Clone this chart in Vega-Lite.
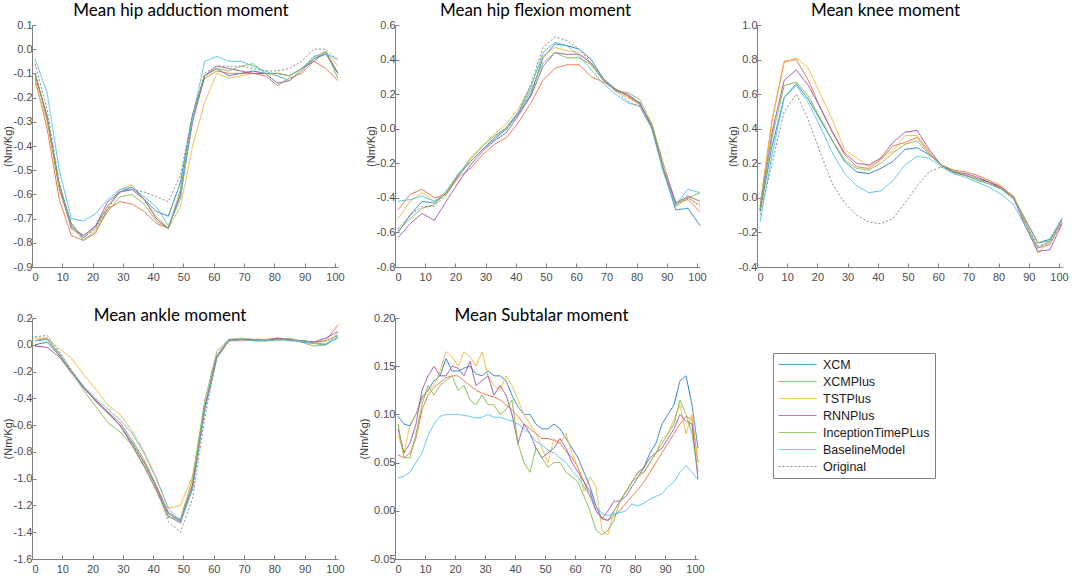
{
  "$schema": "https://vega.github.io/schema/vega-lite/v6.json",
  "padding": {"left": 2, "top": 2, "right": 4, "bottom": 2},
  "background": "white",
  "config": {
    "locale": {"number": {"decimal": ".", "thousands": ",", "grouping": [3], "currency": ["$", ""], "minus": "-"}},
    "view": {"stroke": null},
    "axis": {
      "grid": false,
      "domainColor": "#808080",
      "tickColor": "#808080",
      "tickSize": -4,
      "labelColor": "#4d4d4d",
      "labelFont": "Liberation Sans Narrow, Liberation Sans",
      "labelFontSize": 11,
      "titleFont": "Liberation Sans",
      "titleFontSize": 11,
      "titleFontWeight": "normal",
      "titleColor": "#333333",
      "titlePadding": 0
    },
    "axisX": {"labelPadding": 8},
    "axisY": {"labelPadding": 4},
    "title": {"font": "Lato", "fontSize": 17, "fontWeight": "normal", "color": "black", "offset": -1},
    "legend": {
      "orient": "none",
      "legendX": 741,
      "legendY": 328,
      "symbolType": "M-1,0H5.33",
      "symbolSize": 144,
      "symbolStrokeWidth": 1,
      "labelFont": "Liberation Sans",
      "labelFontSize": 12.5,
      "labelColor": "#1a1a1a",
      "labelOffset": 32,
      "strokeColor": "#808080",
      "padding": 5,
      "rowPadding": 4
    },
    "line": {"strokeWidth": 1}
  },
  "datasets": {
    "moments": [
      {"p":"add","x":1,"XCM":-0.10,"XCMPlus":-0.12,"TSTPlus":-0.14,"RNNPlus":-0.10,"InceptionTimePLus":-0.10,"BaselineModel":-0.04,"Original":-0.06},
      {"p":"add","x":5,"XCM":-0.28,"XCMPlus":-0.33,"TSTPlus":-0.30,"RNNPlus":-0.28,"InceptionTimePLus":-0.29,"BaselineModel":-0.18,"Original":-0.25},
      {"p":"add","x":9,"XCM":-0.56,"XCMPlus":-0.62,"TSTPlus":-0.58,"RNNPlus":-0.57,"InceptionTimePLus":-0.57,"BaselineModel":-0.50,"Original":-0.55},
      {"p":"add","x":13,"XCM":-0.72,"XCMPlus":-0.77,"TSTPlus":-0.73,"RNNPlus":-0.74,"InceptionTimePLus":-0.73,"BaselineModel":-0.70,"Original":-0.74},
      {"p":"add","x":17,"XCM":-0.78,"XCMPlus":-0.79,"TSTPlus":-0.77,"RNNPlus":-0.77,"InceptionTimePLus":-0.79,"BaselineModel":-0.71,"Original":-0.78},
      {"p":"add","x":21,"XCM":-0.73,"XCMPlus":-0.76,"TSTPlus":-0.74,"RNNPlus":-0.73,"InceptionTimePLus":-0.75,"BaselineModel":-0.68,"Original":-0.74},
      {"p":"add","x":25,"XCM":-0.65,"XCMPlus":-0.66,"TSTPlus":-0.65,"RNNPlus":-0.63,"InceptionTimePLus":-0.67,"BaselineModel":-0.62,"Original":-0.66},
      {"p":"add","x":29,"XCM":-0.59,"XCMPlus":-0.63,"TSTPlus":-0.58,"RNNPlus":-0.59,"InceptionTimePLus":-0.61,"BaselineModel":-0.58,"Original":-0.59},
      {"p":"add","x":33,"XCM":-0.57,"XCMPlus":-0.64,"TSTPlus":-0.56,"RNNPlus":-0.58,"InceptionTimePLus":-0.60,"BaselineModel":-0.57,"Original":-0.58},
      {"p":"add","x":37,"XCM":-0.62,"XCMPlus":-0.67,"TSTPlus":-0.62,"RNNPlus":-0.62,"InceptionTimePLus":-0.64,"BaselineModel":-0.61,"Original":-0.59},
      {"p":"add","x":41,"XCM":-0.67,"XCMPlus":-0.72,"TSTPlus":-0.69,"RNNPlus":-0.70,"InceptionTimePLus":-0.71,"BaselineModel":-0.65,"Original":-0.61},
      {"p":"add","x":45,"XCM":-0.69,"XCMPlus":-0.74,"TSTPlus":-0.74,"RNNPlus":-0.74,"InceptionTimePLus":-0.74,"BaselineModel":-0.73,"Original":-0.63},
      {"p":"add","x":49,"XCM":-0.55,"XCMPlus":-0.60,"TSTPlus":-0.65,"RNNPlus":-0.60,"InceptionTimePLus":-0.58,"BaselineModel":-0.62,"Original":-0.52},
      {"p":"add","x":53,"XCM":-0.27,"XCMPlus":-0.28,"TSTPlus":-0.40,"RNNPlus":-0.30,"InceptionTimePLus":-0.28,"BaselineModel":-0.28,"Original":-0.27},
      {"p":"add","x":57,"XCM":-0.11,"XCMPlus":-0.12,"TSTPlus":-0.22,"RNNPlus":-0.11,"InceptionTimePLus":-0.11,"BaselineModel":-0.05,"Original":-0.10},
      {"p":"add","x":61,"XCM":-0.08,"XCMPlus":-0.09,"TSTPlus":-0.10,"RNNPlus":-0.07,"InceptionTimePLus":-0.08,"BaselineModel":-0.03,"Original":-0.07},
      {"p":"add","x":65,"XCM":-0.11,"XCMPlus":-0.10,"TSTPlus":-0.12,"RNNPlus":-0.08,"InceptionTimePLus":-0.09,"BaselineModel":-0.05,"Original":-0.07},
      {"p":"add","x":69,"XCM":-0.10,"XCMPlus":-0.10,"TSTPlus":-0.11,"RNNPlus":-0.09,"InceptionTimePLus":-0.07,"BaselineModel":-0.05,"Original":-0.07},
      {"p":"add","x":73,"XCM":-0.09,"XCMPlus":-0.10,"TSTPlus":-0.10,"RNNPlus":-0.10,"InceptionTimePLus":-0.06,"BaselineModel":-0.07,"Original":-0.08},
      {"p":"add","x":77,"XCM":-0.10,"XCMPlus":-0.11,"TSTPlus":-0.10,"RNNPlus":-0.10,"InceptionTimePLus":-0.10,"BaselineModel":-0.09,"Original":-0.09},
      {"p":"add","x":81,"XCM":-0.14,"XCMPlus":-0.15,"TSTPlus":-0.11,"RNNPlus":-0.10,"InceptionTimePLus":-0.10,"BaselineModel":-0.11,"Original":-0.09},
      {"p":"add","x":85,"XCM":-0.13,"XCMPlus":-0.12,"TSTPlus":-0.13,"RNNPlus":-0.11,"InceptionTimePLus":-0.11,"BaselineModel":-0.13,"Original":-0.08},
      {"p":"add","x":89,"XCM":-0.09,"XCMPlus":-0.10,"TSTPlus":-0.09,"RNNPlus":-0.08,"InceptionTimePLus":-0.08,"BaselineModel":-0.08,"Original":-0.05},
      {"p":"add","x":93,"XCM":-0.04,"XCMPlus":-0.05,"TSTPlus":-0.03,"RNNPlus":-0.05,"InceptionTimePLus":-0.04,"BaselineModel":-0.03,"Original":0.00},
      {"p":"add","x":97,"XCM":-0.02,"XCMPlus":-0.08,"TSTPlus":-0.01,"RNNPlus":-0.01,"InceptionTimePLus":-0.01,"BaselineModel":-0.02,"Original":0.00},
      {"p":"add","x":101,"XCM":-0.10,"XCMPlus":-0.13,"TSTPlus":-0.07,"RNNPlus":-0.10,"InceptionTimePLus":-0.12,"BaselineModel":-0.04,"Original":-0.05},

      {"p":"flex","x":1,"XCM":-0.60,"XCMPlus":-0.47,"TSTPlus":-0.52,"RNNPlus":-0.63,"InceptionTimePLus":-0.59,"BaselineModel":-0.42,"Original":-0.58},
      {"p":"flex","x":5,"XCM":-0.50,"XCMPlus":-0.38,"TSTPlus":-0.42,"RNNPlus":-0.55,"InceptionTimePLus":-0.52,"BaselineModel":-0.41,"Original":-0.50},
      {"p":"flex","x":9,"XCM":-0.42,"XCMPlus":-0.35,"TSTPlus":-0.37,"RNNPlus":-0.49,"InceptionTimePLus":-0.46,"BaselineModel":-0.39,"Original":-0.45},
      {"p":"flex","x":13,"XCM":-0.43,"XCMPlus":-0.40,"TSTPlus":-0.42,"RNNPlus":-0.53,"InceptionTimePLus":-0.44,"BaselineModel":-0.42,"Original":-0.45},
      {"p":"flex","x":17,"XCM":-0.37,"XCMPlus":-0.38,"TSTPlus":-0.37,"RNNPlus":-0.42,"InceptionTimePLus":-0.37,"BaselineModel":-0.36,"Original":-0.38},
      {"p":"flex","x":21,"XCM":-0.27,"XCMPlus":-0.28,"TSTPlus":-0.26,"RNNPlus":-0.31,"InceptionTimePLus":-0.27,"BaselineModel":-0.26,"Original":-0.27},
      {"p":"flex","x":25,"XCM":-0.19,"XCMPlus":-0.23,"TSTPlus":-0.18,"RNNPlus":-0.21,"InceptionTimePLus":-0.17,"BaselineModel":-0.19,"Original":-0.19},
      {"p":"flex","x":29,"XCM":-0.12,"XCMPlus":-0.15,"TSTPlus":-0.10,"RNNPlus":-0.13,"InceptionTimePLus":-0.10,"BaselineModel":-0.12,"Original":-0.12},
      {"p":"flex","x":33,"XCM":-0.06,"XCMPlus":-0.09,"TSTPlus":-0.03,"RNNPlus":-0.07,"InceptionTimePLus":-0.04,"BaselineModel":-0.05,"Original":-0.05},
      {"p":"flex","x":37,"XCM":0.00,"XCMPlus":-0.05,"TSTPlus":0.03,"RNNPlus":-0.02,"InceptionTimePLus":0.00,"BaselineModel":0.01,"Original":0.01},
      {"p":"flex","x":41,"XCM":0.09,"XCMPlus":0.04,"TSTPlus":0.12,"RNNPlus":0.08,"InceptionTimePLus":0.10,"BaselineModel":0.10,"Original":0.10},
      {"p":"flex","x":45,"XCM":0.20,"XCMPlus":0.15,"TSTPlus":0.25,"RNNPlus":0.19,"InceptionTimePLus":0.22,"BaselineModel":0.24,"Original":0.26},
      {"p":"flex","x":49,"XCM":0.41,"XCMPlus":0.28,"TSTPlus":0.42,"RNNPlus":0.36,"InceptionTimePLus":0.38,"BaselineModel":0.44,"Original":0.47},
      {"p":"flex","x":53,"XCM":0.49,"XCMPlus":0.35,"TSTPlus":0.47,"RNNPlus":0.44,"InceptionTimePLus":0.44,"BaselineModel":0.50,"Original":0.53},
      {"p":"flex","x":57,"XCM":0.48,"XCMPlus":0.37,"TSTPlus":0.45,"RNNPlus":0.43,"InceptionTimePLus":0.41,"BaselineModel":0.48,"Original":0.51},
      {"p":"flex","x":61,"XCM":0.46,"XCMPlus":0.37,"TSTPlus":0.44,"RNNPlus":0.43,"InceptionTimePLus":0.41,"BaselineModel":0.42,"Original":0.46},
      {"p":"flex","x":65,"XCM":0.40,"XCMPlus":0.30,"TSTPlus":0.37,"RNNPlus":0.38,"InceptionTimePLus":0.37,"BaselineModel":0.34,"Original":0.38},
      {"p":"flex","x":69,"XCM":0.29,"XCMPlus":0.27,"TSTPlus":0.28,"RNNPlus":0.28,"InceptionTimePLus":0.28,"BaselineModel":0.26,"Original":0.29},
      {"p":"flex","x":73,"XCM":0.23,"XCMPlus":0.23,"TSTPlus":0.22,"RNNPlus":0.22,"InceptionTimePLus":0.22,"BaselineModel":0.20,"Original":0.22},
      {"p":"flex","x":77,"XCM":0.19,"XCMPlus":0.19,"TSTPlus":0.18,"RNNPlus":0.20,"InceptionTimePLus":0.21,"BaselineModel":0.15,"Original":0.16},
      {"p":"flex","x":81,"XCM":0.15,"XCMPlus":0.14,"TSTPlus":0.14,"RNNPlus":0.15,"InceptionTimePLus":0.17,"BaselineModel":0.13,"Original":0.13},
      {"p":"flex","x":85,"XCM":0.01,"XCMPlus":0.03,"TSTPlus":0.02,"RNNPlus":0.01,"InceptionTimePLus":0.03,"BaselineModel":0.00,"Original":0.01},
      {"p":"flex","x":89,"XCM":-0.25,"XCMPlus":-0.21,"TSTPlus":-0.24,"RNNPlus":-0.24,"InceptionTimePLus":-0.24,"BaselineModel":-0.26,"Original":-0.24},
      {"p":"flex","x":93,"XCM":-0.47,"XCMPlus":-0.43,"TSTPlus":-0.44,"RNNPlus":-0.43,"InceptionTimePLus":-0.45,"BaselineModel":-0.44,"Original":-0.43},
      {"p":"flex","x":97,"XCM":-0.46,"XCMPlus":-0.41,"TSTPlus":-0.40,"RNNPlus":-0.39,"InceptionTimePLus":-0.40,"BaselineModel":-0.35,"Original":-0.40},
      {"p":"flex","x":101,"XCM":-0.56,"XCMPlus":-0.48,"TSTPlus":-0.44,"RNNPlus":-0.42,"InceptionTimePLus":-0.37,"BaselineModel":-0.37,"Original":-0.45},

      {"p":"knee","x":1,"XCM":-0.08,"XCMPlus":-0.05,"TSTPlus":-0.05,"RNNPlus":-0.07,"InceptionTimePLus":-0.07,"BaselineModel":-0.14,"Original":-0.10},
      {"p":"knee","x":5,"XCM":0.30,"XCMPlus":0.45,"TSTPlus":0.45,"RNNPlus":0.38,"InceptionTimePLus":0.35,"BaselineModel":0.25,"Original":0.20},
      {"p":"knee","x":9,"XCM":0.58,"XCMPlus":0.79,"TSTPlus":0.78,"RNNPlus":0.68,"InceptionTimePLus":0.65,"BaselineModel":0.58,"Original":0.50},
      {"p":"knee","x":13,"XCM":0.66,"XCMPlus":0.80,"TSTPlus":0.81,"RNNPlus":0.74,"InceptionTimePLus":0.67,"BaselineModel":0.65,"Original":0.60},
      {"p":"knee","x":17,"XCM":0.57,"XCMPlus":0.68,"TSTPlus":0.75,"RNNPlus":0.65,"InceptionTimePLus":0.59,"BaselineModel":0.55,"Original":0.45},
      {"p":"knee","x":21,"XCM":0.45,"XCMPlus":0.52,"TSTPlus":0.60,"RNNPlus":0.52,"InceptionTimePLus":0.46,"BaselineModel":0.41,"Original":0.26},
      {"p":"knee","x":25,"XCM":0.33,"XCMPlus":0.38,"TSTPlus":0.45,"RNNPlus":0.38,"InceptionTimePLus":0.33,"BaselineModel":0.26,"Original":0.08},
      {"p":"knee","x":29,"XCM":0.21,"XCMPlus":0.25,"TSTPlus":0.28,"RNNPlus":0.26,"InceptionTimePLus":0.22,"BaselineModel":0.14,"Original":-0.03},
      {"p":"knee","x":33,"XCM":0.15,"XCMPlus":0.18,"TSTPlus":0.23,"RNNPlus":0.20,"InceptionTimePLus":0.17,"BaselineModel":0.07,"Original":-0.10},
      {"p":"knee","x":37,"XCM":0.14,"XCMPlus":0.17,"TSTPlus":0.18,"RNNPlus":0.19,"InceptionTimePLus":0.16,"BaselineModel":0.03,"Original":-0.14},
      {"p":"knee","x":41,"XCM":0.17,"XCMPlus":0.22,"TSTPlus":0.23,"RNNPlus":0.23,"InceptionTimePLus":0.20,"BaselineModel":0.04,"Original":-0.15},
      {"p":"knee","x":45,"XCM":0.21,"XCMPlus":0.30,"TSTPlus":0.27,"RNNPlus":0.32,"InceptionTimePLus":0.26,"BaselineModel":0.10,"Original":-0.12},
      {"p":"knee","x":49,"XCM":0.28,"XCMPlus":0.32,"TSTPlus":0.36,"RNNPlus":0.38,"InceptionTimePLus":0.31,"BaselineModel":0.19,"Original":-0.03},
      {"p":"knee","x":53,"XCM":0.29,"XCMPlus":0.35,"TSTPlus":0.36,"RNNPlus":0.39,"InceptionTimePLus":0.33,"BaselineModel":0.24,"Original":0.07},
      {"p":"knee","x":57,"XCM":0.25,"XCMPlus":0.26,"TSTPlus":0.27,"RNNPlus":0.28,"InceptionTimePLus":0.25,"BaselineModel":0.23,"Original":0.15},
      {"p":"knee","x":61,"XCM":0.19,"XCMPlus":0.19,"TSTPlus":0.19,"RNNPlus":0.19,"InceptionTimePLus":0.19,"BaselineModel":0.18,"Original":0.18},
      {"p":"knee","x":65,"XCM":0.15,"XCMPlus":0.16,"TSTPlus":0.14,"RNNPlus":0.15,"InceptionTimePLus":0.16,"BaselineModel":0.14,"Original":0.15},
      {"p":"knee","x":69,"XCM":0.13,"XCMPlus":0.15,"TSTPlus":0.13,"RNNPlus":0.14,"InceptionTimePLus":0.13,"BaselineModel":0.12,"Original":0.13},
      {"p":"knee","x":73,"XCM":0.11,"XCMPlus":0.13,"TSTPlus":0.11,"RNNPlus":0.12,"InceptionTimePLus":0.10,"BaselineModel":0.09,"Original":0.11},
      {"p":"knee","x":77,"XCM":0.09,"XCMPlus":0.10,"TSTPlus":0.10,"RNNPlus":0.09,"InceptionTimePLus":0.08,"BaselineModel":0.06,"Original":0.08},
      {"p":"knee","x":81,"XCM":0.05,"XCMPlus":0.06,"TSTPlus":0.07,"RNNPlus":0.06,"InceptionTimePLus":0.05,"BaselineModel":0.02,"Original":0.05},
      {"p":"knee","x":85,"XCM":0.00,"XCMPlus":0.01,"TSTPlus":0.00,"RNNPlus":0.00,"InceptionTimePLus":0.00,"BaselineModel":-0.04,"Original":-0.01},
      {"p":"knee","x":89,"XCM":-0.13,"XCMPlus":-0.15,"TSTPlus":-0.14,"RNNPlus":-0.17,"InceptionTimePLus":-0.13,"BaselineModel":-0.17,"Original":-0.15},
      {"p":"knee","x":93,"XCM":-0.26,"XCMPlus":-0.29,"TSTPlus":-0.32,"RNNPlus":-0.31,"InceptionTimePLus":-0.26,"BaselineModel":-0.29,"Original":-0.28},
      {"p":"knee","x":97,"XCM":-0.24,"XCMPlus":-0.27,"TSTPlus":-0.25,"RNNPlus":-0.30,"InceptionTimePLus":-0.25,"BaselineModel":-0.25,"Original":-0.26},
      {"p":"knee","x":101,"XCM":-0.12,"XCMPlus":-0.14,"TSTPlus":-0.13,"RNNPlus":-0.15,"InceptionTimePLus":-0.12,"BaselineModel":-0.12,"Original":-0.13},

      {"p":"ankle","x":1,"XCM":0.00,"XCMPlus":0.03,"TSTPlus":0.05,"RNNPlus":-0.01,"InceptionTimePLus":0.03,"BaselineModel":0.03,"Original":0.06},
      {"p":"ankle","x":5,"XCM":0.02,"XCMPlus":0.05,"TSTPlus":0.05,"RNNPlus":-0.02,"InceptionTimePLus":0.04,"BaselineModel":0.04,"Original":0.07},
      {"p":"ankle","x":9,"XCM":-0.08,"XCMPlus":-0.07,"TSTPlus":-0.03,"RNNPlus":-0.09,"InceptionTimePLus":-0.08,"BaselineModel":-0.06,"Original":-0.05},
      {"p":"ankle","x":13,"XCM":-0.20,"XCMPlus":-0.20,"TSTPlus":-0.10,"RNNPlus":-0.21,"InceptionTimePLus":-0.20,"BaselineModel":-0.19,"Original":-0.19},
      {"p":"ankle","x":17,"XCM":-0.32,"XCMPlus":-0.31,"TSTPlus":-0.22,"RNNPlus":-0.32,"InceptionTimePLus":-0.34,"BaselineModel":-0.31,"Original":-0.32},
      {"p":"ankle","x":21,"XCM":-0.42,"XCMPlus":-0.41,"TSTPlus":-0.33,"RNNPlus":-0.42,"InceptionTimePLus":-0.46,"BaselineModel":-0.40,"Original":-0.42},
      {"p":"ankle","x":25,"XCM":-0.50,"XCMPlus":-0.50,"TSTPlus":-0.45,"RNNPlus":-0.51,"InceptionTimePLus":-0.58,"BaselineModel":-0.48,"Original":-0.51},
      {"p":"ankle","x":29,"XCM":-0.60,"XCMPlus":-0.58,"TSTPlus":-0.52,"RNNPlus":-0.60,"InceptionTimePLus":-0.65,"BaselineModel":-0.56,"Original":-0.60},
      {"p":"ankle","x":33,"XCM":-0.73,"XCMPlus":-0.71,"TSTPlus":-0.64,"RNNPlus":-0.75,"InceptionTimePLus":-0.75,"BaselineModel":-0.66,"Original":-0.74},
      {"p":"ankle","x":37,"XCM":-0.88,"XCMPlus":-0.86,"TSTPlus":-0.80,"RNNPlus":-0.91,"InceptionTimePLus":-0.90,"BaselineModel":-0.81,"Original":-0.88},
      {"p":"ankle","x":41,"XCM":-1.06,"XCMPlus":-1.05,"TSTPlus":-0.99,"RNNPlus":-1.08,"InceptionTimePLus":-1.09,"BaselineModel":-1.00,"Original":-1.06},
      {"p":"ankle","x":45,"XCM":-1.26,"XCMPlus":-1.25,"TSTPlus":-1.22,"RNNPlus":-1.28,"InceptionTimePLus":-1.29,"BaselineModel":-1.22,"Original":-1.32},
      {"p":"ankle","x":49,"XCM":-1.32,"XCMPlus":-1.31,"TSTPlus":-1.20,"RNNPlus":-1.33,"InceptionTimePLus":-1.30,"BaselineModel":-1.32,"Original":-1.40},
      {"p":"ankle","x":53,"XCM":-1.05,"XCMPlus":-1.04,"TSTPlus":-0.98,"RNNPlus":-1.07,"InceptionTimePLus":-1.00,"BaselineModel":-1.08,"Original":-1.15},
      {"p":"ankle","x":57,"XCM":-0.47,"XCMPlus":-0.48,"TSTPlus":-0.46,"RNNPlus":-0.47,"InceptionTimePLus":-0.42,"BaselineModel":-0.50,"Original":-0.55},
      {"p":"ankle","x":61,"XCM":-0.09,"XCMPlus":-0.10,"TSTPlus":-0.09,"RNNPlus":-0.08,"InceptionTimePLus":-0.05,"BaselineModel":-0.10,"Original":-0.09},
      {"p":"ankle","x":65,"XCM":0.03,"XCMPlus":0.03,"TSTPlus":0.03,"RNNPlus":0.04,"InceptionTimePLus":0.04,"BaselineModel":0.03,"Original":0.03},
      {"p":"ankle","x":69,"XCM":0.04,"XCMPlus":0.03,"TSTPlus":0.04,"RNNPlus":0.04,"InceptionTimePLus":0.05,"BaselineModel":0.04,"Original":0.04},
      {"p":"ankle","x":73,"XCM":0.03,"XCMPlus":0.04,"TSTPlus":0.03,"RNNPlus":0.04,"InceptionTimePLus":0.04,"BaselineModel":0.03,"Original":0.04},
      {"p":"ankle","x":77,"XCM":0.03,"XCMPlus":0.04,"TSTPlus":0.04,"RNNPlus":0.03,"InceptionTimePLus":0.03,"BaselineModel":0.03,"Original":0.04},
      {"p":"ankle","x":81,"XCM":0.04,"XCMPlus":0.05,"TSTPlus":0.04,"RNNPlus":0.05,"InceptionTimePLus":0.03,"BaselineModel":0.04,"Original":0.04},
      {"p":"ankle","x":85,"XCM":0.04,"XCMPlus":0.03,"TSTPlus":0.04,"RNNPlus":0.04,"InceptionTimePLus":0.05,"BaselineModel":0.03,"Original":0.04},
      {"p":"ankle","x":89,"XCM":0.02,"XCMPlus":0.03,"TSTPlus":0.03,"RNNPlus":0.03,"InceptionTimePLus":0.02,"BaselineModel":0.03,"Original":0.03},
      {"p":"ankle","x":93,"XCM":0.01,"XCMPlus":0.02,"TSTPlus":0.01,"RNNPlus":0.02,"InceptionTimePLus":-0.01,"BaselineModel":0.01,"Original":0.02},
      {"p":"ankle","x":97,"XCM":0.00,"XCMPlus":0.03,"TSTPlus":0.03,"RNNPlus":0.05,"InceptionTimePLus":0.00,"BaselineModel":0.01,"Original":0.03},
      {"p":"ankle","x":101,"XCM":0.06,"XCMPlus":0.15,"TSTPlus":0.07,"RNNPlus":0.10,"InceptionTimePLus":0.09,"BaselineModel":0.05,"Original":0.07},

      {"p":"sub","x":1,"XCM":0.098,"XCMPlus":0.058,"TSTPlus":0.078,"RNNPlus":0.085,"InceptionTimePLus":0.090,"BaselineModel":0.034},
      {"p":"sub","x":3,"XCM":0.090,"XCMPlus":0.055,"TSTPlus":0.060,"RNNPlus":0.060,"InceptionTimePLus":0.055,"BaselineModel":0.036},
      {"p":"sub","x":5,"XCM":0.088,"XCMPlus":0.060,"TSTPlus":0.090,"RNNPlus":0.070,"InceptionTimePLus":0.055,"BaselineModel":0.040},
      {"p":"sub","x":7,"XCM":0.100,"XCMPlus":0.075,"TSTPlus":0.100,"RNNPlus":0.090,"InceptionTimePLus":0.080,"BaselineModel":0.050},
      {"p":"sub","x":9,"XCM":0.118,"XCMPlus":0.105,"TSTPlus":0.115,"RNNPlus":0.125,"InceptionTimePLus":0.110,"BaselineModel":0.060},
      {"p":"sub","x":11,"XCM":0.125,"XCMPlus":0.120,"TSTPlus":0.125,"RNNPlus":0.140,"InceptionTimePLus":0.130,"BaselineModel":0.078},
      {"p":"sub","x":13,"XCM":0.135,"XCMPlus":0.128,"TSTPlus":0.130,"RNNPlus":0.150,"InceptionTimePLus":0.120,"BaselineModel":0.090},
      {"p":"sub","x":15,"XCM":0.140,"XCMPlus":0.133,"TSTPlus":0.145,"RNNPlus":0.140,"InceptionTimePLus":0.130,"BaselineModel":0.098},
      {"p":"sub","x":17,"XCM":0.158,"XCMPlus":0.138,"TSTPlus":0.165,"RNNPlus":0.140,"InceptionTimePLus":0.135,"BaselineModel":0.100},
      {"p":"sub","x":19,"XCM":0.145,"XCMPlus":0.140,"TSTPlus":0.160,"RNNPlus":0.150,"InceptionTimePLus":0.140,"BaselineModel":0.100},
      {"p":"sub","x":21,"XCM":0.145,"XCMPlus":0.140,"TSTPlus":0.150,"RNNPlus":0.148,"InceptionTimePLus":0.125,"BaselineModel":0.100},
      {"p":"sub","x":23,"XCM":0.148,"XCMPlus":0.135,"TSTPlus":0.165,"RNNPlus":0.140,"InceptionTimePLus":0.130,"BaselineModel":0.099},
      {"p":"sub","x":25,"XCM":0.150,"XCMPlus":0.130,"TSTPlus":0.160,"RNNPlus":0.155,"InceptionTimePLus":0.115,"BaselineModel":0.098},
      {"p":"sub","x":27,"XCM":0.142,"XCMPlus":0.125,"TSTPlus":0.150,"RNNPlus":0.130,"InceptionTimePLus":0.110,"BaselineModel":0.096},
      {"p":"sub","x":29,"XCM":0.140,"XCMPlus":0.122,"TSTPlus":0.165,"RNNPlus":0.135,"InceptionTimePLus":0.120,"BaselineModel":0.097},
      {"p":"sub","x":31,"XCM":0.145,"XCMPlus":0.120,"TSTPlus":0.140,"RNNPlus":0.140,"InceptionTimePLus":0.110,"BaselineModel":0.100},
      {"p":"sub","x":33,"XCM":0.140,"XCMPlus":0.118,"TSTPlus":0.130,"RNNPlus":0.120,"InceptionTimePLus":0.110,"BaselineModel":0.097},
      {"p":"sub","x":35,"XCM":0.140,"XCMPlus":0.115,"TSTPlus":0.125,"RNNPlus":0.130,"InceptionTimePLus":0.100,"BaselineModel":0.097},
      {"p":"sub","x":37,"XCM":0.135,"XCMPlus":0.110,"TSTPlus":0.140,"RNNPlus":0.120,"InceptionTimePLus":0.105,"BaselineModel":0.095},
      {"p":"sub","x":39,"XCM":0.120,"XCMPlus":0.105,"TSTPlus":0.130,"RNNPlus":0.100,"InceptionTimePLus":0.115,"BaselineModel":0.093},
      {"p":"sub","x":41,"XCM":0.108,"XCMPlus":0.098,"TSTPlus":0.115,"RNNPlus":0.070,"InceptionTimePLus":0.070,"BaselineModel":0.090},
      {"p":"sub","x":43,"XCM":0.100,"XCMPlus":0.090,"TSTPlus":0.100,"RNNPlus":0.090,"InceptionTimePLus":0.050,"BaselineModel":0.085},
      {"p":"sub","x":45,"XCM":0.100,"XCMPlus":0.085,"TSTPlus":0.090,"RNNPlus":0.080,"InceptionTimePLus":0.040,"BaselineModel":0.080},
      {"p":"sub","x":47,"XCM":0.090,"XCMPlus":0.080,"TSTPlus":0.080,"RNNPlus":0.065,"InceptionTimePLus":0.065,"BaselineModel":0.072},
      {"p":"sub","x":49,"XCM":0.085,"XCMPlus":0.075,"TSTPlus":0.065,"RNNPlus":0.055,"InceptionTimePLus":0.055,"BaselineModel":0.068},
      {"p":"sub","x":51,"XCM":0.085,"XCMPlus":0.075,"TSTPlus":0.050,"RNNPlus":0.060,"InceptionTimePLus":0.045,"BaselineModel":0.063},
      {"p":"sub","x":53,"XCM":0.090,"XCMPlus":0.073,"TSTPlus":0.075,"RNNPlus":0.065,"InceptionTimePLus":0.050,"BaselineModel":0.060},
      {"p":"sub","x":55,"XCM":0.085,"XCMPlus":0.070,"TSTPlus":0.070,"RNNPlus":0.075,"InceptionTimePLus":0.050,"BaselineModel":0.055},
      {"p":"sub","x":57,"XCM":0.075,"XCMPlus":0.062,"TSTPlus":0.080,"RNNPlus":0.065,"InceptionTimePLus":0.040,"BaselineModel":0.050},
      {"p":"sub","x":59,"XCM":0.065,"XCMPlus":0.055,"TSTPlus":0.060,"RNNPlus":0.050,"InceptionTimePLus":0.035,"BaselineModel":0.042},
      {"p":"sub","x":61,"XCM":0.055,"XCMPlus":0.045,"TSTPlus":0.045,"RNNPlus":0.040,"InceptionTimePLus":0.030,"BaselineModel":0.035},
      {"p":"sub","x":63,"XCM":0.040,"XCMPlus":0.030,"TSTPlus":0.020,"RNNPlus":0.030,"InceptionTimePLus":0.015,"BaselineModel":0.025},
      {"p":"sub","x":65,"XCM":0.025,"XCMPlus":0.015,"TSTPlus":0.035,"RNNPlus":0.020,"InceptionTimePLus":0.000,"BaselineModel":0.015},
      {"p":"sub","x":67,"XCM":0.005,"XCMPlus":0.000,"TSTPlus":0.025,"RNNPlus":0.000,"InceptionTimePLus":-0.020,"BaselineModel":0.005},
      {"p":"sub","x":69,"XCM":-0.008,"XCMPlus":-0.008,"TSTPlus":-0.020,"RNNPlus":-0.008,"InceptionTimePLus":-0.025,"BaselineModel":-0.003},
      {"p":"sub","x":71,"XCM":-0.010,"XCMPlus":-0.010,"TSTPlus":-0.025,"RNNPlus":0.000,"InceptionTimePLus":-0.020,"BaselineModel":-0.005},
      {"p":"sub","x":73,"XCM":0.000,"XCMPlus":-0.005,"TSTPlus":0.000,"RNNPlus":0.010,"InceptionTimePLus":-0.010,"BaselineModel":-0.003},
      {"p":"sub","x":75,"XCM":0.010,"XCMPlus":0.000,"TSTPlus":0.010,"RNNPlus":0.010,"InceptionTimePLus":0.010,"BaselineModel":-0.002},
      {"p":"sub","x":77,"XCM":0.020,"XCMPlus":0.008,"TSTPlus":0.020,"RNNPlus":0.015,"InceptionTimePLus":0.020,"BaselineModel":0.000},
      {"p":"sub","x":79,"XCM":0.030,"XCMPlus":0.015,"TSTPlus":0.030,"RNNPlus":0.025,"InceptionTimePLus":0.030,"BaselineModel":0.007},
      {"p":"sub","x":81,"XCM":0.040,"XCMPlus":0.022,"TSTPlus":0.040,"RNNPlus":0.035,"InceptionTimePLus":0.035,"BaselineModel":0.005},
      {"p":"sub","x":83,"XCM":0.045,"XCMPlus":0.030,"TSTPlus":0.040,"RNNPlus":0.045,"InceptionTimePLus":0.040,"BaselineModel":0.008},
      {"p":"sub","x":85,"XCM":0.060,"XCMPlus":0.040,"TSTPlus":0.050,"RNNPlus":0.055,"InceptionTimePLus":0.050,"BaselineModel":0.012},
      {"p":"sub","x":87,"XCM":0.070,"XCMPlus":0.050,"TSTPlus":0.060,"RNNPlus":0.060,"InceptionTimePLus":0.060,"BaselineModel":0.015},
      {"p":"sub","x":89,"XCM":0.090,"XCMPlus":0.060,"TSTPlus":0.075,"RNNPlus":0.065,"InceptionTimePLus":0.070,"BaselineModel":0.018},
      {"p":"sub","x":91,"XCM":0.100,"XCMPlus":0.070,"TSTPlus":0.080,"RNNPlus":0.075,"InceptionTimePLus":0.080,"BaselineModel":0.025},
      {"p":"sub","x":93,"XCM":0.110,"XCMPlus":0.080,"TSTPlus":0.095,"RNNPlus":0.085,"InceptionTimePLus":0.090,"BaselineModel":0.030},
      {"p":"sub","x":95,"XCM":0.135,"XCMPlus":0.090,"TSTPlus":0.110,"RNNPlus":0.100,"InceptionTimePLus":0.115,"BaselineModel":0.040},
      {"p":"sub","x":97,"XCM":0.140,"XCMPlus":0.098,"TSTPlus":0.080,"RNNPlus":0.093,"InceptionTimePLus":0.100,"BaselineModel":0.047},
      {"p":"sub","x":99,"XCM":0.110,"XCMPlus":0.095,"TSTPlus":0.100,"RNNPlus":0.090,"InceptionTimePLus":0.080,"BaselineModel":0.040},
      {"p":"sub","x":101,"XCM":0.065,"XCMPlus":0.050,"TSTPlus":0.050,"RNNPlus":0.033,"InceptionTimePLus":0.040,"BaselineModel":0.032}
    ]
  },
  "data": {"name": "moments"},
  "transform": [
    {"fold": ["XCM", "XCMPlus", "TSTPlus", "RNNPlus", "InceptionTimePLus", "BaselineModel", "Original"], "as": ["model", "value"]}
  ],
  "columns": 3,
  "bounds": "flush",
  "spacing": {"row": 51, "column": 57},
  "concat": [
    {
      "title": {"text": "Mean hip adduction moment", "dx": -4},
      "width": 306, "height": 242,
      "transform": [{"filter": "datum.p == 'add'"}],
      "mark": "line",
      "encoding": {
        "x": {"field": "x", "type": "quantitative", "scale": {"domain": [0, 101], "nice": false}, "axis": {"title": null, "values": [0,10,20,30,40,50,60,70,80,90,100]}},
        "y": {"field": "value", "type": "quantitative", "scale": {"domain": [-0.9, 0.1], "nice": false, "zero": false}, "axis": {"title": "(Nm/Kg)", "values": [-0.9,-0.8,-0.7,-0.6,-0.5,-0.4,-0.3,-0.2,-0.1,0,0.1]}},
        "color": {"field": "model", "type": "nominal", "title": null, "scale": {"domain": ["XCM", "XCMPlus", "TSTPlus", "RNNPlus", "InceptionTimePLus", "BaselineModel", "Original"], "range": ["#1f7fc0", "#ee6a3f", "#f4b73c", "#9b4fb0", "#7cba45", "#4dc3ee", "#8c8c8c"]}},
        "strokeDash": {"field": "model", "type": "nominal", "title": null, "scale": {"domain": ["XCM", "XCMPlus", "TSTPlus", "RNNPlus", "InceptionTimePLus", "BaselineModel", "Original"], "range": [[1,0],[1,0],[1,0],[1,0],[1,0],[1,0],[2,2]]}}
      }
    },
    {
      "title": {"text": "Mean hip flexion moment", "dx": -12},
      "width": 305, "height": 242,
      "transform": [{"filter": "datum.p == 'flex'"}],
      "mark": "line",
      "encoding": {
        "x": {"field": "x", "type": "quantitative", "scale": {"domain": [0, 101], "nice": false}, "axis": {"title": null, "values": [0,10,20,30,40,50,60,70,80,90,100]}},
        "y": {"field": "value", "type": "quantitative", "scale": {"domain": [-0.8, 0.6], "nice": false, "zero": false}, "axis": {"title": "(Nm/Kg)", "values": [-0.8,-0.6,-0.4,-0.2,0,0.2,0.4,0.6]}},
        "color": {"field": "model", "type": "nominal", "title": null},
        "strokeDash": {"field": "model", "type": "nominal", "title": null}
      }
    },
    {
      "title": {"text": "Mean knee moment", "dx": -24},
      "width": 305, "height": 242,
      "transform": [{"filter": "datum.p == 'knee'"}],
      "mark": "line",
      "encoding": {
        "x": {"field": "x", "type": "quantitative", "scale": {"domain": [0, 101], "nice": false}, "axis": {"title": null, "values": [0,10,20,30,40,50,60,70,80,90,100]}},
        "y": {"field": "value", "type": "quantitative", "scale": {"domain": [-0.4, 1], "nice": false, "zero": false}, "axis": {"title": "(Nm/Kg)", "values": [-0.4,-0.2,0,0.2,0.4,0.6,0.8,1]}},
        "color": {"field": "model", "type": "nominal", "title": null},
        "strokeDash": {"field": "model", "type": "nominal", "title": null}
      }
    },
    {
      "title": {"text": "Mean ankle moment", "dx": -15, "offset": -13},
      "width": 306, "height": 241,
      "transform": [{"filter": "datum.p == 'ankle'"}],
      "mark": "line",
      "encoding": {
        "x": {"field": "x", "type": "quantitative", "scale": {"domain": [0, 101], "nice": false}, "axis": {"title": null, "values": [0,10,20,30,40,50,60,70,80,90,100]}},
        "y": {"field": "value", "type": "quantitative", "scale": {"domain": [-1.6, 0.2], "nice": false, "zero": false}, "axis": {"title": "(Nm/Kg)", "values": [-1.6,-1.4,-1.2,-1,-0.8,-0.6,-0.4,-0.2,0,0.2]}},
        "color": {"field": "model", "type": "nominal", "title": null},
        "strokeDash": {"field": "model", "type": "nominal", "title": null}
      }
    },
    {
      "title": {"text": "Mean Subtalar moment", "dx": -5, "offset": -13},
      "width": 303, "height": 241,
      "transform": [{"filter": "datum.p == 'sub'"}],
      "mark": "line",
      "encoding": {
        "x": {"field": "x", "type": "quantitative", "scale": {"domain": [0, 101], "nice": false}, "axis": {"title": null, "values": [0,10,20,30,40,50,60,70,80,90,100]}},
        "y": {"field": "value", "type": "quantitative", "scale": {"domain": [-0.05, 0.2], "nice": false, "zero": false}, "axis": {"title": "(Nm/Kg)", "values": [-0.05,0,0.05,0.1,0.15,0.2]}},
        "color": {"field": "model", "type": "nominal", "title": null},
        "strokeDash": {"field": "model", "type": "nominal", "title": null}
      }
    }
  ]
}
